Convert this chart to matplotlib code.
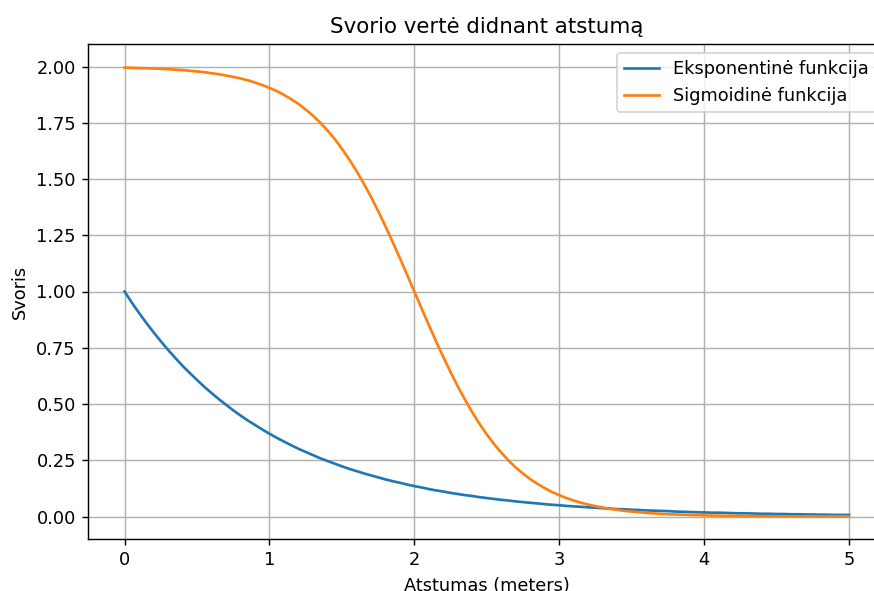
import matplotlib
matplotlib.use("Agg")
import matplotlib.pyplot as plt

# sample positions along the distance axis (0 to 5 m, every 0.05 m)
distance = [round(i * 0.05, 2) for i in range(101)]

exponential = [1.000, 0.951, 0.905, 0.861, 0.819, 0.779, 0.741, 0.705, 0.670, 0.638,
               0.607, 0.577, 0.549, 0.522, 0.497, 0.472, 0.449, 0.427, 0.407, 0.387,
               0.368, 0.350, 0.333, 0.317, 0.301, 0.287, 0.273, 0.259, 0.247, 0.235,
               0.223, 0.212, 0.202, 0.192, 0.183, 0.174, 0.165, 0.157, 0.150, 0.142,
               0.135, 0.129, 0.122, 0.116, 0.111, 0.105, 0.100, 0.095, 0.091, 0.086,
               0.082, 0.078, 0.074, 0.071, 0.067, 0.064, 0.061, 0.058, 0.055, 0.052,
               0.050, 0.047, 0.045, 0.043, 0.041, 0.039, 0.037, 0.035, 0.033, 0.032,
               0.030, 0.029, 0.027, 0.026, 0.025, 0.024, 0.022, 0.021, 0.020, 0.019,
               0.018, 0.017, 0.017, 0.016, 0.015, 0.014, 0.014, 0.013, 0.012, 0.012,
               0.011, 0.011, 0.010, 0.010, 0.009, 0.009, 0.008, 0.008, 0.007, 0.007,
               0.007]

sigmoid = [1.995, 1.994, 1.993, 1.992, 1.991, 1.990, 1.988, 1.986, 1.984, 1.981,
           1.978, 1.975, 1.970, 1.966, 1.960, 1.954, 1.947, 1.939, 1.929, 1.918,
           1.905, 1.891, 1.874, 1.855, 1.834, 1.809, 1.782, 1.751, 1.716, 1.678,
           1.635, 1.588, 1.537, 1.481, 1.422, 1.358, 1.291, 1.221, 1.149, 1.075,
           1.000, 0.925, 0.851, 0.779, 0.709, 0.642, 0.578, 0.519, 0.463, 0.412,
           0.365, 0.322, 0.284, 0.249, 0.218, 0.191, 0.166, 0.145, 0.126, 0.109,
           0.095, 0.082, 0.071, 0.061, 0.053, 0.046, 0.040, 0.034, 0.030, 0.025,
           0.022, 0.019, 0.016, 0.014, 0.012, 0.010, 0.009, 0.008, 0.007, 0.006,
           0.005, 0.004, 0.004, 0.003, 0.003, 0.0023, 0.002, 0.0017, 0.0015, 0.0013,
           0.001, 0.0009, 0.0008, 0.0007, 0.0006, 0.0005, 0.0004, 0.0004, 0.0003, 0.0003,
           0.0002]

DPI = 128
W, H = 874, 591
fig = plt.figure(figsize=(W / DPI, H / DPI), dpi=DPI)
left, right, top, bottom = 88.3, 885.2, 44.0, 539.0
ax = fig.add_axes([left / W, 1 - bottom / H, (right - left) / W, (bottom - top) / H])

ax.plot(distance, exponential, color="#1f77b4", linewidth=1.5, label="Eksponentinė funkcija")
ax.plot(distance, sigmoid, color="#ff7f0e", linewidth=1.5, label="Sigmoidinė funkcija")

ax.set_xlim(-0.25, 5.25)
ax.set_ylim(-0.1, 2.1)
ax.set_title("Svorio vertė didnant atstumą", fontsize=12)
ax.set_xlabel("Atstumas (meters)")
ax.set_ylabel("Svoris")
ax.grid(True)
ax.spines["right"].set_visible(False)
ax.legend(loc="upper right")

fig.savefig("out.png", dpi=DPI)
